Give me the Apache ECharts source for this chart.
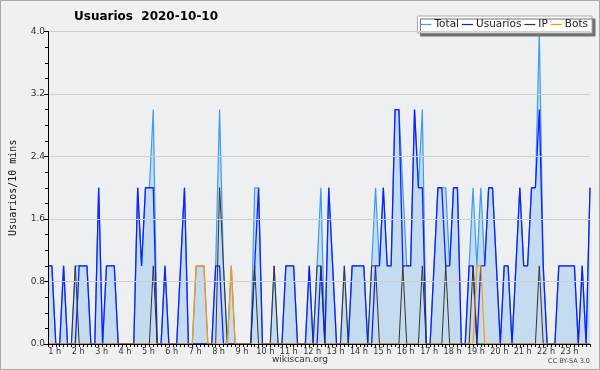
<!DOCTYPE html>
<html>
<head>
<meta charset="utf-8">
<script src="https://cdn.jsdelivr.net/npm/echarts@6/dist/echarts.min.js"></script>
<style>
html,body{margin:0;padding:0;background:#f0f0f0;}
#c{width:600px;height:370px;}
</style>
</head>
<body>
<div id="c"></div>
<script>
// 10-minute slots
var slotCount = 140;
var categories = [];
for (var k = 0; k < slotCount; k++) { categories.push('slot ' + k); }
var hourLabels = ['1 h','2 h','3 h','4 h','5 h','6 h','7 h','8 h','9 h','10 h','11 h','12 h',
                  '13 h','14 h','15 h','16 h','17 h','18 h','19 h','20 h','21 h','22 h','23 h'];
var yTicks = [0, 0.8, 1.6, 2.4, 3.2, 4.0];

var total = [
1,1,0,0,1,0,0,1,1,1,
1,0,0,2,0,1,1,1,0,0,
0,0,0,2,1,2,2,3,0,0,
1,0,0,0,1,2,0,0,1,1,
1,0,0,1,3,1,0,1,0,0,
0,0,0,2,2,0,0,0,1,0,
0,1,1,1,0,0,0,1,0,1,
2,0,2,1,0,0,1,0,1,1,
1,1,0,1,2,1,2,1,1,3,
3,2,1,1,3,2,3,0,0,1,
2,2,2,1,2,2,0,0,1,2,
1,2,1,2,2,1,0,1,1,0,
1,2,1,1,2,2,4,1,0,0,
0,1,1,1,1,1,0,1,0,2];
var usuarios = [
1,1,0,0,1,0,0,0,1,1,
1,0,0,2,0,1,1,1,0,0,
0,0,0,2,1,2,2,2,0,0,
1,0,0,0,1,2,0,0,0,0,
0,0,0,1,1,0,0,0,0,0,
0,0,0,1,2,0,0,0,0,0,
0,1,1,1,0,0,0,1,0,0,
1,0,2,1,0,0,0,0,1,1,
1,1,0,0,1,1,2,1,1,3,
3,1,1,1,3,2,2,0,0,1,
2,2,1,1,2,2,0,0,1,1,
0,1,1,2,2,1,0,1,1,0,
1,2,1,1,2,2,3,1,0,0,
0,1,1,1,1,1,0,1,0,2];
var ip = [
0,0,0,0,0,0,0,1,0,0,
0,0,0,0,0,0,0,0,0,0,
0,0,0,0,0,0,0,1,0,0,
0,0,0,0,0,0,0,0,0,0,
0,0,0,0,2,1,0,0,0,0,
0,0,0,1,0,0,0,0,1,0,
0,0,0,0,0,0,0,0,0,1,
1,0,0,0,0,0,1,0,0,0,
0,0,0,1,1,0,0,0,0,0,
0,1,0,0,0,0,1,0,0,0,
0,0,1,0,0,0,0,0,0,1,
0,0,0,0,0,0,0,0,0,0,
0,0,0,0,0,0,1,0,0,0,
0,0,0,0,0,0,0,0,0,0];
var bots = [
0,0,0,0,0,0,0,0,0,0,
0,0,0,0,0,0,0,0,0,0,
0,0,0,0,0,0,0,0,0,0,
0,0,0,0,0,0,0,0,1,1,
1,0,0,0,0,0,0,1,0,0,
0,0,0,0,0,0,0,0,0,0,
0,0,0,0,0,0,0,0,0,0,
0,0,0,0,0,0,0,0,0,0,
0,0,0,0,0,0,0,0,0,0,
0,0,0,0,0,0,0,0,0,0,
0,0,0,0,0,0,0,0,0,0,
1,1,0,0,0,0,0,0,0,0,
0,0,0,0,0,0,0,0,0,0,
0,0,0,0,0,0,0,0,0,0];

var chart = echarts.init(document.getElementById('c'), null, {renderer: 'canvas'});
var font = 'DejaVu Sans';
chart.setOption({
  animation: false,
  backgroundColor: '#f0f0f0',
  title: {
    text: 'Usuarios  2020-10-10',
    left: 74, top: 11, padding: 0,
    textStyle: {fontFamily: font, fontSize: 12, fontWeight: 'bold', color: '#000'}
  },
  legend: {
    data: ['Total', 'Usuarios', 'IP', 'Bots'],
    right: 8, top: 16,
    padding: [3, 4, 3, 3],
    icon: 'rect', itemWidth: 11, itemHeight: 1.2, itemGap: 3,
    backgroundColor: '#ffffff', borderColor: '#aaaaaa', borderWidth: 1,
    shadowColor: '#707070', shadowBlur: 0, shadowOffsetX: 3, shadowOffsetY: 3,
    textStyle: {fontFamily: font, fontSize: 10.5, color: '#222', padding: [0, 0, 0, -2]}
  },
  grid: {
    left: 46, right: 10, top: 31.5, bottom: 26,
    show: true, backgroundColor: '#eeeff1', borderWidth: 0
  },
  xAxis: {
    type: 'category', data: categories, boundaryGap: false, z: 5,
    axisLine: {lineStyle: {color: '#000', width: 1}},
    axisTick: {show: true, interval: 0, length: 3, lineStyle: {color: '#000'}},
    axisLabel: {
      interval: function (i) { return i % 6 === 2; },
      formatter: function (v, i) { return hourLabels[(i - 2) / 6] || ''; },
      fontFamily: 'DejaVu Sans Condensed, DejaVu Sans', fontSize: 9, color: '#333', margin: 3,
      padding: [0, 2, 0, 0]
    },
    splitLine: {show: false}
  },
  yAxis: {
    type: 'value', min: yTicks[0], max: yTicks[yTicks.length - 1], interval: 0.8, z: 5,
    name: 'Usuarios/10 mins', nameLocation: 'middle', nameGap: 30,
    nameTextStyle: {fontFamily: 'DejaVu Sans Mono', fontSize: 10, color: '#111'},
    axisLine: {show: true, lineStyle: {color: '#000', width: 1}},
    axisTick: {show: true, length: 4, lineStyle: {color: '#000'}},
    minorTick: {show: true, splitNumber: 4, length: 3, lineStyle: {color: '#000'}},
    axisLabel: {
      formatter: function (v) { return v.toFixed(1); },
      fontFamily: font, fontSize: 9, color: '#333', margin: 3
    },
    splitLine: {show: true, lineStyle: {color: '#cfcfcf', width: 1}}
  },
  series: [
    {name: 'Total', type: 'line', data: total, showSymbol: false, symbol: 'none',
     color: '#3c9cf0', lineStyle: {width: 1.2, color: '#3c9cf0'},
     areaStyle: {color: '#c5dcf0', opacity: 1}},
    {name: 'Usuarios', type: 'line', data: usuarios, showSymbol: false, symbol: 'none',
     color: '#1020ff', lineStyle: {width: 1.3, color: '#1020ff'}},
    {name: 'IP', type: 'line', data: ip, showSymbol: false, symbol: 'none',
     color: '#333333', lineStyle: {width: 1, color: '#333333'}},
    {name: 'Bots', type: 'line', data: bots, showSymbol: false, symbol: 'none',
     color: '#ff9900', lineStyle: {width: 1.2, color: '#ff9900'}}
  ],
  graphic: [
    {type: 'text', left: 'center', top: 355,
     style: {text: 'wikiscan.org', fontFamily: font, fontSize: 9, fill: '#333'}},
    {type: 'text', right: 10, top: 358,
     style: {text: 'CC BY-SA 3.0', fontFamily: font, fontSize: 6.5, fill: '#444'}},
    {type: 'rect', shape: {x: 0.5, y: 0.5, width: 599, height: 369}, z: 100,
     style: {fill: 'none', stroke: '#a8a8a8', lineWidth: 1}}
  ]
});
</script>
</body>
</html>
